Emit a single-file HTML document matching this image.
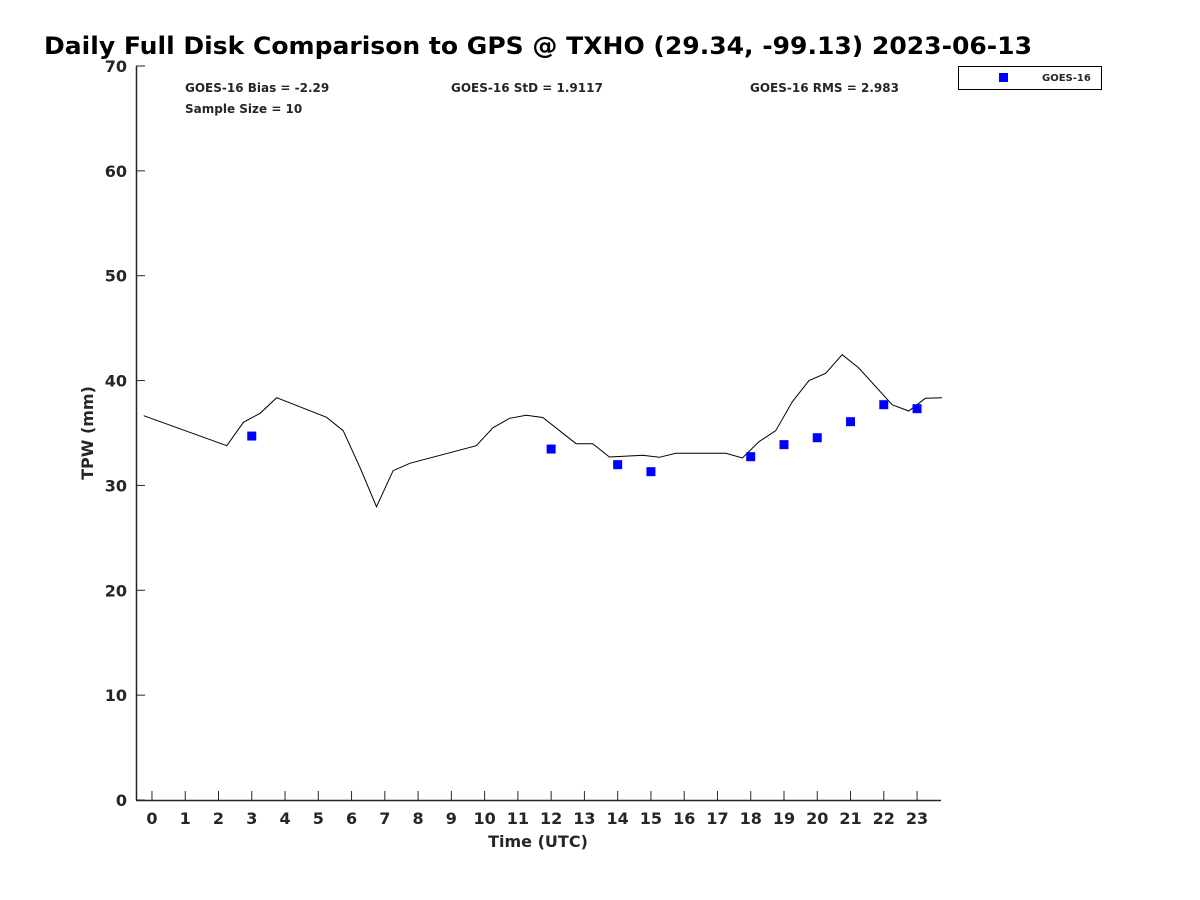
<!DOCTYPE html>
<html><head><meta charset="utf-8"><style>
html,body{margin:0;padding:0;background:#fff;}
svg{display:block;font-family:"DejaVu Sans","Liberation Sans",sans-serif;font-weight:bold;}
</style></head><body>
<svg id="chart" width="1200" height="900" viewBox="0 0 1200 900">
<text x="44" y="54" font-size="24" fill="#000" textLength="988" lengthAdjust="spacingAndGlyphs">Daily Full Disk Comparison to GPS @ TXHO (29.34, -99.13) 2023-06-13</text>
<g id="axes"></g>
<g id="marks"></g>
<text x="185" y="92" font-size="12" fill="#262626">GOES-16 Bias = -2.29</text>
<text x="185" y="113" font-size="12" fill="#262626">Sample Size = 10</text>
<text x="451" y="92" font-size="12" fill="#262626">GOES-16 StD = 1.9117</text>
<text x="750" y="92" font-size="12" fill="#262626">GOES-16 RMS = 2.983</text>
<g>
<rect x="958.5" y="66.5" width="143" height="23" fill="#fff" stroke="#000" stroke-width="1"/>
<rect x="999" y="73" width="9" height="9" fill="#0000ff"/>
<text x="1042" y="81" font-size="10" fill="#262626">GOES-16</text>
</g>
<text transform="translate(93,433) rotate(-90)" text-anchor="middle" font-size="16" fill="#262626">TPW (mm)</text>
<text x="538" y="847" text-anchor="middle" font-size="16" fill="#262626">Time (UTC)</text>
</svg>
<script>
const gpsTimes = [-0.25,2.25,2.75,3.25,3.75,5.25,5.75,6.25,6.75,7.25,7.75,9.75,10.25,10.75,11.25,11.75,12.75,13.25,13.75,14.75,15.25,15.75,17.25,17.75,18.25,18.75,19.25,19.75,20.25,20.75,21.25,22.25,22.75,23.25,23.75];
const gpsValues = [36.65,33.79,36.02,36.88,38.37,36.5,35.22,31.73,27.97,31.4,32.11,33.79,35.5,36.4,36.69,36.48,33.98,33.98,32.71,32.87,32.68,33.06,33.06,32.62,34.17,35.22,37.98,39.99,40.69,42.47,41.2,37.7,37.1,38.31,38.37];
const goesTimes = [3,12,14,15,18,19,20,21,22,23];
const goesValues = [34.71,33.47,31.98,31.31,32.74,33.89,34.55,36.08,37.7,37.32];
const xTicks = [0,1,2,3,4,5,6,7,8,9,10,11,12,13,14,15,16,17,18,19,20,21,22,23];
const yTicks = [0,10,20,30,40,50,60,70];

const X0=136, X1=941, Y0=800, Y1=66;
const xMin=-0.48, xMax=23.72, yMin=0, yMax=70;
function sx(t){return X0+(t-xMin)/(xMax-xMin)*(X1-X0);}
function sy(v){return Y0-(v-yMin)/(yMax-yMin)*(Y0-Y1);}
const NS='http://www.w3.org/2000/svg';
const axes=document.getElementById('axes');
const marks=document.getElementById('marks');
function mk(tag,attrs,parent){const e=document.createElementNS(NS,tag);for(const k in attrs)e.setAttribute(k,attrs[k]);parent.appendChild(e);return e;}

const xl=mk('line',{x1:X0,y1:Y0+0.5,x2:X1,y2:Y0+0.5,stroke:'#262626','stroke-width':1.5},axes);


const yl=mk('line',{x1:X0+0.5,y1:Y1,x2:X0+0.5,y2:Y0,stroke:'#262626','stroke-width':1.5},axes);



xTicks.forEach(t=>{
  const x=sx(t);
  const tk=mk('line',{x1:x,y1:Y0,x2:x,y2:Y0-9,stroke:'#262626','stroke-width':1},axes);
  
  
  const lb=mk('text',{x:x,y:Y0+24,'text-anchor':'middle','font-size':16,fill:'#262626'},axes);
  lb.textContent=t;
  
  
});
yTicks.forEach(v=>{
  const y=sy(v);
  const tk=mk('line',{x1:X0,y1:y,x2:X0+9,y2:y,stroke:'#262626','stroke-width':1},axes);
  
  
  const lb=mk('text',{x:X0-9,y:y+6,'text-anchor':'end','font-size':16,fill:'#262626'},axes);
  lb.textContent=v;
  
  
});

const pts=gpsTimes.map((t,i)=>sx(t).toFixed(1)+','+sy(gpsValues[i]).toFixed(1)).join(' ');
const pl=mk('polyline',{points:pts,fill:'none',stroke:'#000','stroke-width':1},marks);



goesTimes.forEach((t,i)=>{
  const r=mk('rect',{x:sx(t)-4.5,y:sy(goesValues[i])-4.5,width:9,height:9,fill:'#0000ff'},marks);
  
  
});
</script>
</body></html>
